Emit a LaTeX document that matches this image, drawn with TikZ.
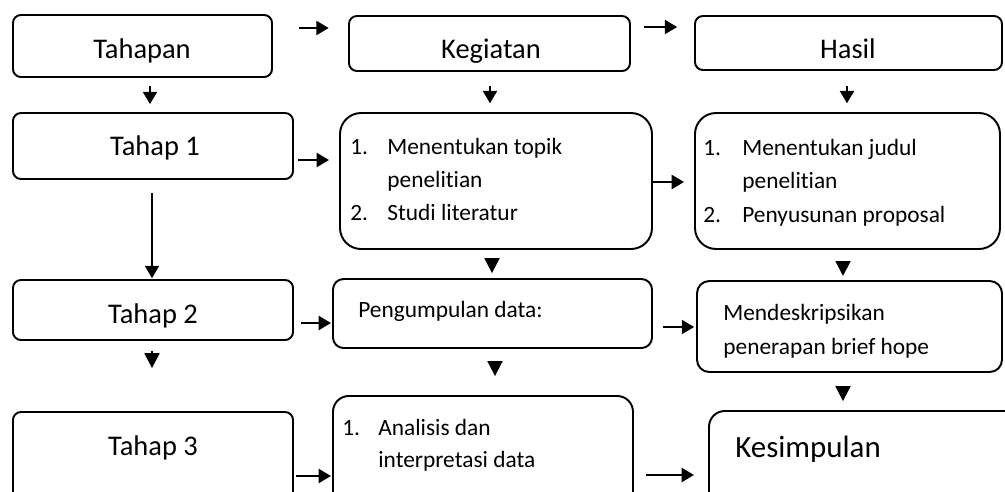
\documentclass[tikz,border=0pt]{standalone}
\usepackage{fontspec}
\setmainfont{Carlito}[Ligatures=NoCommon]
\usetikzlibrary{arrows.meta}
\usetikzlibrary{fit}

\begin{document}
\begin{tikzpicture}[x=0.02cm,y=-0.02cm,
  box/.style={draw, line width=1.1pt, inner sep=0pt, rounded corners=#1},
  box/.default=4.5pt,
  head/.style={inner sep=0pt, anchor=base, font=\fontsize{16.2}{19}\selectfont},
  item/.style={inner sep=0pt, anchor=base west, font=\fontsize{13.3}{16}\selectfont},
  arr/.style={line width=1.1pt, -{Triangle[length=7pt,width=8pt]}},
  tri/.style={line width=1.1pt, -{Triangle[length=8.5pt,width=8.5pt]}}]

\clip (0,0) rectangle (1005,491);

\node[box, fit={(13,15) (272,77)}] (tahapan) {};
\node[box, fit={(349,16) (630,71)}] (kegiatan) {};
\node[box, fit={(695,16) (1002,70)}] (hasil) {};
\node[box, fit={(13,113) (293,179)}] (tahap1) {};
\node[box=12pt, fit={(340,113) (652,249)}] (keg1) {};
\node[box=12pt, fit={(695,113) (1000,249)}] (hasil1) {};
\node[box, fit={(13,280) (293,340)}] (tahap2) {};
\node[box=6pt, fit={(333,279) (652,348)}] (keg2) {};
\node[box=7pt, fit={(697,281) (1002,372)}] (hasil2) {};
\node[box, fit={(13,412) (293,510)}] (tahap3) {};
\node[box=9pt, fit={(333,396) (633,510)}] (keg3) {};
\node[box=9pt, fit={(709,411) (1020,510)}] (hasil3) {};

\node[head] (t0) at (142,58) {Tahapan};
\node[head] (k0) at (491,58) {Kegiatan};
\node[head] (h0) at (848,58) {Hasil};
\node[head] (t1) at (155,155) {Tahap 1};
\node[head] (t2) at (153,323) {Tahap 2};
\node[head] (t3) at (153,455) {Tahap 3};

\node[item] (k1a) at (350,154) {1.};
\node[item] (k1b) at (387,154) {Menentukan topik};
\node[item] (k1c) at (387,187) {penelitian};
\node[item] (k1d) at (350,220) {2.};
\node[item] (k1e) at (387,220) {Studi literatur};
\node[item] (h1a) at (703,155) {1.};
\node[item] (h1b) at (742,155) {Menentukan judul};
\node[item] (h1c) at (742,188) {penelitian};
\node[item] (h1d) at (703,222) {2.};
\node[item] (h1e) at (742,222) {Penyusunan proposal};
\node[item] (k2a) at (358,317) {Pengumpulan data:};
\node[item] (h2a) at (723,320) {Mendeskripsikan};
\node[item] (h2b) at (723,354) {penerapan brief hope};
\node[item] (k3a) at (342,435) {1.};
\node[item] (k3b) at (378,435) {Analisis dan};
\node[item] (k3c) at (378,467) {interpretasi data};
\node[item, font=\fontsize{17.6}{21}\selectfont] (h3a) at (735,457) {Kesimpulan};

\draw[arr, shorten <=15pt, shorten >=11pt] (tahapan.east |- 0,28) -- (kegiatan.west |- 0,28);
\draw[arr, shorten <=7.4pt, shorten >=9.6pt] (kegiatan.east |- 0,27) -- (hasil.west |- 0,27);
\draw[arr, shorten <=4.5pt, shorten >=4.5pt] (tahapan.south -| 150,0) -- (tahap1.north -| 150,0);
\draw[arr, shorten <=8pt, shorten >=5pt] (kegiatan.south -| 490,0) -- (keg1.north -| 490,0);
\draw[arr, shorten <=8.5pt, shorten >=5pt] (hasil.south -| 847,0) -- (hasil1.north -| 847,0);
\draw[arr, shorten <=2.3pt, shorten >=5.7pt] (tahap1.east |- 0,160) -- (keg1.west |- 0,160);
\draw[arr, shorten >=5.7pt] (keg1.east |- 0,182) -- (hasil1.west |- 0,182);
\draw[arr, shorten <=7.4pt, shorten >=0.5pt] (tahap1.south -| 152,0) -- (tahap2.north -| 152,0);
\draw[tri, shorten <=5.1pt, shorten >=2.8pt] (keg1.south -| 492,0) -- (keg2.north -| 492,0);
\draw[tri, shorten <=6.2pt, shorten >=2.3pt] (hasil1.south -| 843,0) -- (hasil2.north -| 843,0);
\draw[arr, shorten <=4pt, shorten >=0.6pt] (tahap2.east |- 0,323) -- (keg2.west |- 0,323);
\draw[arr, shorten <=5.7pt, shorten >=1.1pt] (keg2.east |- 0,327) -- (hasil2.west |- 0,327);
\draw[tri, shorten <=5.7pt, shorten >=24.4pt] (tahap2.south -| 152,0) -- (tahap3.north -| 152,0);
\draw[tri, shorten <=7.9pt, shorten >=10.8pt] (keg2.south -| 495,0) -- (keg3.north -| 495,0);
\draw[tri, shorten <=9.1pt, shorten >=5.1pt] (hasil2.south -| 843,0) -- (hasil3.north -| 843,0);
\draw[arr, shorten <=1.1pt, shorten >=0.6pt] (tahap3.east |- 0,476) -- (keg3.west |- 0,476);
\draw[arr, shorten <=6.8pt, shorten >=8pt] (keg3.east |- 0,475) -- (hasil3.west |- 0,475);
\end{tikzpicture}
\end{document}
